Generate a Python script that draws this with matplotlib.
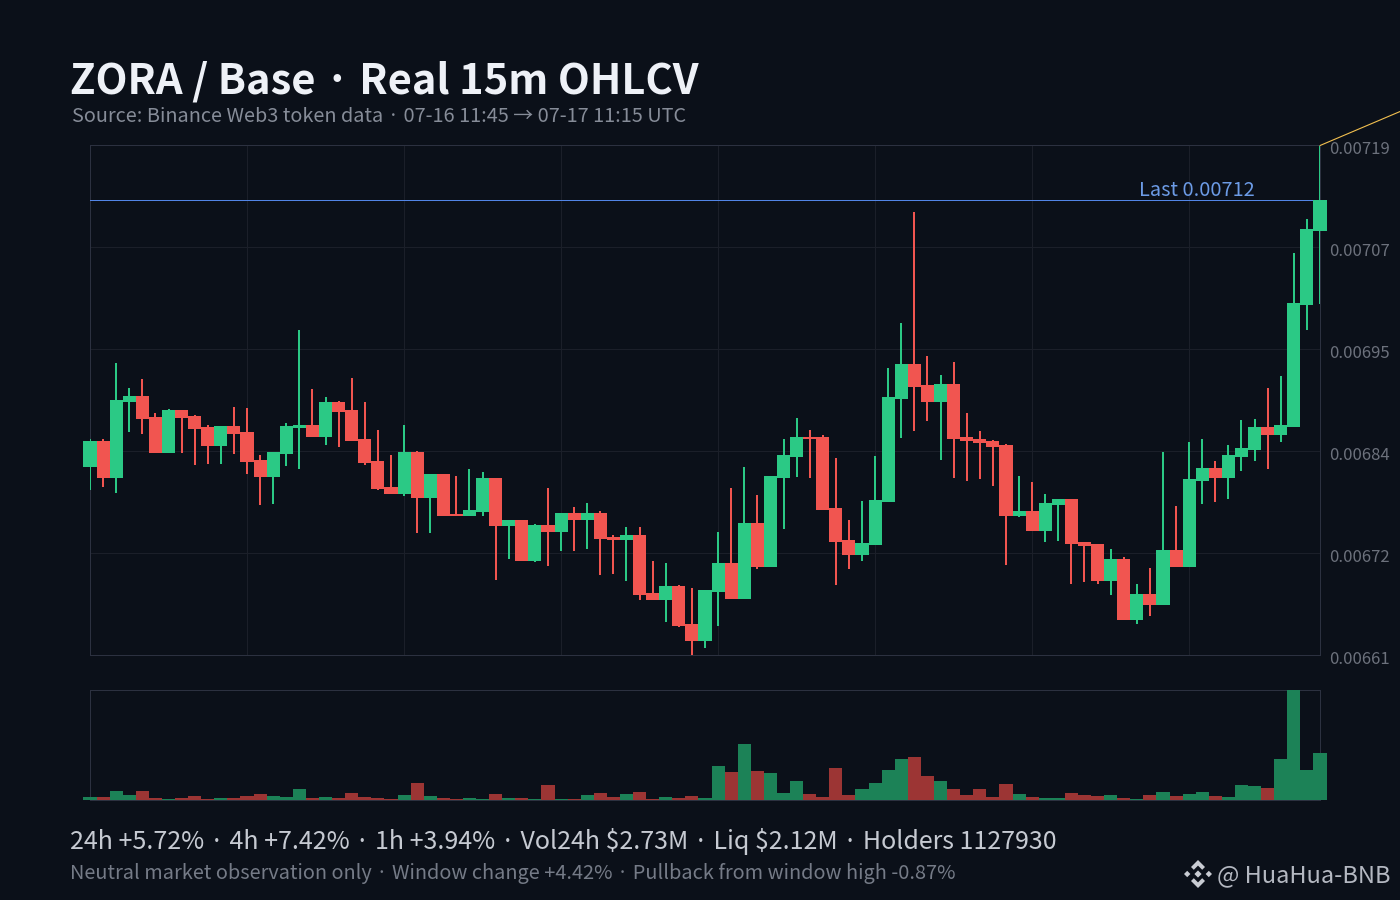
import numpy as np
import matplotlib
matplotlib.use('Agg')
import matplotlib.pyplot as plt
from matplotlib.patches import Polygon
from matplotlib.transforms import ScaledTranslation

plt.rcParams['font.family'] = ['Noto Sans CJK KR', 'DejaVu Sans']

# 15m candles, prices in 1e-6 units
opens = [6823.8, 6853.4, 6811.3, 6897.7, 6904.6, 6880.6, 6839.7, 6888.6, 6881.8, 6869.3, 6847.7, 6870.5,
         6863.6, 6831.8, 6812.4, 6838.6, 6868.2, 6871.6, 6857.9, 6897.7, 6888.6, 6855.7, 6830.6, 6801.0,
         6793.1, 6840.9, 6788.6, 6815.9, 6770.4, 6768.1, 6772.6, 6811.3, 6756.7, 6763.5, 6716.9, 6757.8,
         6749.9, 6771.5, 6763.5, 6771.5, 6744.2, 6740.8, 6746.5, 6680.5, 6672.6, 6688.5, 6645.2, 6626.0,
         6681.6, 6714.6, 6673.7, 6760.1, 6710.1, 6811.3, 6835.2, 6857.9, 6857.9, 6777.2, 6740.8, 6723.7,
         6735.1, 6784.0, 6901.1, 6940.9, 6917.1, 6897.7, 6918.2, 6857.9, 6855.7, 6853.4, 6848.8, 6768.1,
         6773.8, 6751.0, 6780.6, 6787.4, 6738.5, 6736.3, 6694.2, 6719.1, 6649.8, 6679.4, 6667.4, 6729.4,
         6710.1, 6807.9, 6822.7, 6811.3, 6835.2, 6843.1, 6869.3, 6860.2, 6869.3, 7008.0, 7092.2]
highs = [6855.7, 6855.7, 6942.1, 6913.6, 6923.9, 6885.2, 6889.8, 6888.6, 6882.9, 6871.6, 6870.5, 6892.0,
         6890.9, 6837.4, 6840.9, 6873.9, 6979.6, 6912.5, 6903.4, 6898.9, 6925.0, 6897.7, 6865.9, 6837.4,
         6871.6, 6842.0, 6815.9, 6815.9, 6813.6, 6821.5, 6818.1, 6811.3, 6763.5, 6763.5, 6759.0, 6799.9,
         6771.5, 6778.3, 6782.9, 6773.8, 6746.5, 6755.6, 6755.6, 6716.9, 6714.6, 6689.6, 6686.2, 6683.9,
         6749.9, 6799.9, 6823.8, 6792.0, 6813.6, 6855.7, 6879.5, 6865.9, 6860.2, 6834.0, 6763.5, 6785.1,
         6836.3, 6936.4, 6987.6, 7113.8, 6950.0, 6928.4, 6943.2, 6885.2, 6864.7, 6854.5, 6850.0, 6813.6,
         6806.7, 6793.1, 6787.4, 6787.4, 6738.5, 6736.3, 6730.5, 6721.4, 6690.7, 6708.9, 6840.9, 6779.4,
         6852.2, 6855.7, 6830.6, 6848.8, 6877.3, 6878.4, 6913.6, 6927.3, 7067.2, 7105.8, 7189.4]
lows = [6797.6, 6801.0, 6794.2, 6863.6, 6861.4, 6839.7, 6839.7, 6839.7, 6826.1, 6827.2, 6827.2, 6838.6,
        6815.9, 6780.6, 6781.7, 6825.0, 6821.5, 6857.9, 6848.8, 6846.5, 6853.4, 6826.1, 6797.6, 6793.1,
        6790.8, 6748.8, 6748.8, 6768.1, 6768.1, 6768.1, 6768.1, 6695.3, 6719.1, 6716.9, 6715.8, 6711.2,
        6728.3, 6728.3, 6730.5, 6701.0, 6702.1, 6694.2, 6672.6, 6672.6, 6647.5, 6641.7, 6610.0, 6618.0,
        6642.9, 6673.7, 6673.7, 6707.8, 6710.1, 6753.3, 6812.4, 6811.3, 6774.9, 6689.6, 6707.8, 6716.9,
        6735.1, 6784.0, 6856.8, 6864.7, 6876.1, 6831.8, 6811.3, 6807.9, 6810.2, 6802.2, 6712.4, 6767.0,
        6751.0, 6738.5, 6739.6, 6690.2, 6693.0, 6690.2, 6677.7, 6649.8, 6645.2, 6654.9, 6667.4, 6710.1,
        6710.1, 6781.7, 6784.0, 6787.4, 6818.7, 6830.6, 6821.0, 6852.2, 6869.3, 6979.6, 7009.2]
closes = [6853.4, 6811.3, 6900.0, 6904.6, 6878.4, 6839.7, 6888.6, 6879.5, 6867.1, 6847.7, 6870.5, 6861.3,
          6829.5, 6812.4, 6840.9, 6870.5, 6871.6, 6857.9, 6897.7, 6886.3, 6853.4, 6828.4, 6798.8, 6793.1,
          6840.9, 6788.6, 6815.9, 6768.1, 6768.1, 6774.9, 6811.3, 6756.7, 6763.5, 6716.9, 6757.8, 6749.9,
          6771.5, 6763.5, 6771.5, 6741.9, 6740.8, 6746.5, 6678.2, 6672.6, 6688.5, 6642.9, 6626.0, 6683.9,
          6714.6, 6673.7, 6760.1, 6710.1, 6813.6, 6837.4, 6857.9, 6855.7, 6774.9, 6738.5, 6723.7, 6737.4,
          6786.3, 6903.4, 6940.9, 6914.8, 6897.7, 6918.2, 6855.7, 6853.4, 6851.1, 6846.5, 6768.1, 6773.8,
          6751.0, 6782.9, 6787.4, 6736.3, 6734.0, 6694.2, 6719.1, 6649.8, 6679.4, 6667.4, 6729.4, 6710.1,
          6810.2, 6822.7, 6811.3, 6837.4, 6845.4, 6869.3, 6860.2, 6871.6, 7010.3, 7094.5, 7127.5]
volumes = [3, 3, 9, 5, 9, 2, 1, 2, 4, 1, 2, 2, 4, 6, 4, 3, 11, 2, 3, 2, 7, 3, 2, 1,
           5, 17, 4, 2, 1, 2, 1, 6, 2, 2, 1, 15, 1, 1, 5, 7, 3, 6, 8, 1, 3, 2, 4, 2,
           34, 28, 56, 29, 27, 7, 19, 6, 3, 32, 5, 11, 17, 30, 41, 43, 24, 19, 11, 5, 11, 3, 16, 6,
           3, 2, 2, 7, 5, 4, 5, 2, 1, 5, 8, 4, 6, 8, 4, 3, 15, 14, 12, 41, 110, 30, 47]
y_ticks = [0.00661, 0.006726, 0.006842, 0.006958, 0.007074, 0.00719]
y_labels = ['0.00661', '0.00672', '0.00684', '0.00695', '0.00707', '0.00719']

BG = '#0b1019'
UP = '#2bc985'
DOWN = '#f15550'
UP_VOL = '#1c8257'
DOWN_VOL = '#9c3534'
GRID = '#1b1f29'
SPINE = '#2c3140'

opens, highs, lows, closes = [np.array(a) / 1e6 for a in (opens, highs, lows, closes)]
idx = np.arange(len(opens))
is_up = closes >= opens
W, H = 1400, 900

fig = plt.figure(figsize=(14, 9), dpi=100, facecolor=BG)
ax = fig.add_axes([90 / W, 1 - 655 / H, 1230 / W, 510 / H], facecolor=BG)
ax_vol = fig.add_axes([90 / W, 1 - 800 / H, 1230 / W, 110 / H], facecolor=BG)

for a in (ax, ax_vol):
    for s in a.spines.values():
        s.set_color(SPINE)
        s.set_linewidth(0.72)
    a.set_xlim(0, len(opens) - 1)

ax.set_ylim(0.00661, 0.00719)
ax.set_yticks(y_ticks, y_labels)
ax.set_xticks(np.arange(12, 94, 12))
ax.yaxis.tick_right()
ax.tick_params(length=0, labelbottom=False, labelright=True, colors='#6c717c', labelsize=12, pad=6.5)
for lab in ax.get_yticklabels():
    lab.set_transform(lab.get_transform() + ScaledTranslation(0, -3 / 100, fig.dpi_scale_trans))
ax.grid(color=GRID, linewidth=0.72)
ax.set_axisbelow(True)

wick_colors = [UP if u else DOWN for u in is_up]
ax.vlines(idx, lows, highs, colors=wick_colors, linewidth=1.44, zorder=3)
bodies = ax.bar(idx, np.abs(closes - opens), bottom=np.minimum(opens, closes), width=1.0,
                color=wick_colors, linewidth=0, zorder=3)
for b in bodies:
    b.set_clip_on(False)

ax.axhline(closes[-1], color='#5285e6', linewidth=0.72, zorder=2.8)
ax.text(0.9472, closes[-1] - 0.0000008, 'Last 0.00712', transform=ax.get_yaxis_transform(),
        ha='right', va='bottom', color='#6c9be6', fontsize=14.4)
ax.annotate('', xy=(94, highs[-1]), xytext=(80, 34), textcoords='offset pixels', annotation_clip=False,
            arrowprops=dict(arrowstyle='-', color='#f2bf4f', linewidth=0.8, shrinkA=0, shrinkB=0))

ax_vol.set_ylim(0, max(volumes))
ax_vol.set_xticks([])
ax_vol.set_yticks([])
vol_bars = ax_vol.bar(idx, volumes, width=1.0, linewidth=0, zorder=3,
                      color=[UP_VOL if u else DOWN_VOL for u in is_up])
for b in vol_bars:
    b.set_clip_on(False)

fig.text(70 / W, 1 - 94 / H, 'ZORA / Base · Real 15m OHLCV', color='#eef1f7', fontsize=30, fontweight='bold')
fig.text(72 / W, 1 - 122 / H, 'Source: Binance Web3 token data · 07-16 11:45 → 07-17 11:15 UTC',
         color='#868c98', fontsize=14.32)
fig.text(70 / W, 1 - 849 / H, '24h +5.72% · 4h +7.42% · 1h +3.94% · Vol24h \\$2.73M · Liq \\$2.12M · Holders 1127930',
         color='#c6cad2', fontsize=18)
fig.text(70 / W, 1 - 879 / H, 'Neutral market observation only · Window change +4.42% · Pullback from window high -0.87%',
         color='#757b87', fontsize=14.37)
fig.text(1217 / W, 1 - 882 / H, '@ HuaHua-BNB', color='#b4b8c1', fontsize=17)

# watermark logo
logo = fig.add_axes([1183 / W, 1 - 889 / H, 30 / W, 30 / H])
logo.set_axis_off()
logo.set_xlim(-15, 15)
logo.set_ylim(-15, 15)
shapes = [
    [(0, 14), (7, 7), (4.2, 4.2), (0, 8.4), (-4.2, 4.2), (-7, 7)],
    [(0, -14), (7, -7), (4.2, -4.2), (0, -8.4), (-4.2, -4.2), (-7, -7)],
    [(-14, 0), (-10.8, 3.2), (-7.6, 0), (-10.8, -3.2)],
    [(14, 0), (10.8, 3.2), (7.6, 0), (10.8, -3.2)],
    [(0, 3.6), (3.6, 0), (0, -3.6), (-3.6, 0)],
]
for pts in shapes:
    logo.add_patch(Polygon(pts, closed=True, color='#c9ccd3', linewidth=0))

fig.savefig('out.png', dpi=100, facecolor=BG)
